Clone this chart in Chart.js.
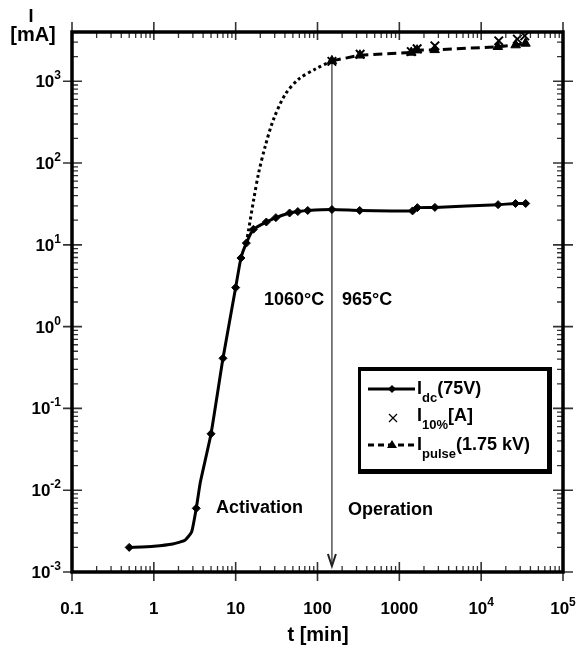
<!DOCTYPE html>
<html lang="en">
<head>
<meta charset="UTF-8">
<script src="https://cdn.jsdelivr.net/npm/chart.js"></script>
<title>I vs t</title>
<style>
    body { margin: 0; background: #fff; }
    #wrap { width: 580px; height: 648px; }
</style>
</head>
<body>
<div id="wrap"><canvas id="chart" width="580" height="648"></canvas></div>
<script>
// t [min] / I [mA]
const dcTime    = [0.5, 1.0, 1.7, 2.4, 2.9, 3.3, 3.7, 5, 7, 10, 11.6, 13.5, 16.5, 23.7, 31, 45.6, 57.5, 76, 150, 328, 1450, 1660, 2720, 16100, 26300, 35000];
const dcCurrent = [0.002, 0.00207, 0.0022, 0.00245, 0.0031, 0.006, 0.0125, 0.049, 0.41, 3.0, 6.9, 10.5, 15.5, 19, 21.5, 24.5, 25.5, 26.3, 27, 26.3, 26, 28.5, 28.7, 31, 32, 32];
const dcMarker  = [1, 0, 0, 0, 0, 1, 0, 1, 1, 1, 1, 1, 1, 1, 1, 1, 1, 1, 1, 1, 1, 1, 1, 1, 1, 1];

const pulseTime    = [150, 330, 1400, 1650, 2700, 16000, 26400, 34800];
const pulseCurrent = [1775, 2080, 2250, 2400, 2420, 2640, 2770, 2900];

const tenTime    = [150, 332, 1400, 1650, 2720, 16400, 27700, 34100];
const tenCurrent = [1750, 2140, 2300, 2500, 2710, 3120, 3270, 3590];

// dotted rise of the pulse current during activation
const riseTime    = [13.5, 14.4, 16.6, 19.1, 23, 29, 40.4, 58.6, 93.4, 150];
const riseCurrent = [10.5, 15.3, 35.6, 76, 161, 342, 692, 1058, 1403, 1775];

const xTicks = [0.1, 1, 10, 100, 1000, 1e4, 1e5];
const xTickText = [['0.1', ''], ['1', ''], ['10', ''], ['100', ''], ['1000', ''], ['10', '4'], ['10', '5']];
const yTicks = [1e-3, 1e-2, 1e-1, 1, 10, 100, 1000];
const yTickText = [['10', '-3'], ['10', '-2'], ['10', '-1'], ['10', '0'], ['10', '1'], ['10', '2'], ['10', '3']];

const switchTime = 150; // activation -> operation

const FONT = '"Liberation Sans", Arial, sans-serif';

function pts(xs, ys) {
    return xs.map((x, i) => ({ x: x, y: ys[i] }));
}

// text with a raised or lowered small part
function drawParts(ctx, parts, x, y, align) {
    let w = 0;
    parts.forEach(p => { ctx.font = 'bold ' + p.size + 'px ' + FONT; w += ctx.measureText(p.text).width; });
    let cx = align === 'right' ? x - w : align === 'center' ? x - w / 2 : x;
    ctx.textAlign = 'left';
    ctx.textBaseline = 'alphabetic';
    parts.forEach(p => {
        ctx.font = 'bold ' + p.size + 'px ' + FONT;
        ctx.fillText(p.text, cx, y + (p.dy || 0));
        cx += ctx.measureText(p.text).width;
    });
}

const axesPlugin = {
    id: 'axesPlugin',
    beforeDatasetsDraw(chart) {
        const { ctx, scales: { x, y } } = chart;
        // arrow marking the switch to operation
        const ax = x.getPixelForValue(switchTime);
        const top = y.getPixelForValue(1750);
        const tip = chart.chartArea.bottom - 6;
        ctx.save();
        ctx.strokeStyle = '#555';
        ctx.lineWidth = 1.5;
        ctx.beginPath();
        ctx.moveTo(ax, top);
        ctx.lineTo(ax, tip);
        ctx.stroke();
        ctx.lineWidth = 2;
        ctx.strokeStyle = '#222';
        ctx.beginPath();
        ctx.moveTo(ax - 4, tip - 12);
        ctx.lineTo(ax, tip);
        ctx.lineTo(ax + 4, tip - 12);
        ctx.stroke();
        ctx.restore();
    },
    afterDraw(chart) {
        const { ctx, chartArea: a, scales: { x, y } } = chart;
        ctx.save();
        ctx.fillStyle = '#000';

        // minor and major ticks on all four sides
        ctx.strokeStyle = '#333';
        for (let d = -1; d < 5; d++) {
            for (let m = 2; m < 10; m++) {
                const px = x.getPixelForValue(m * Math.pow(10, d));
                ctx.lineWidth = 1.3;
                ctx.beginPath();
                ctx.moveTo(px, a.bottom); ctx.lineTo(px, a.bottom - 6);
                ctx.moveTo(px, a.top); ctx.lineTo(px, a.top + 6);
                ctx.stroke();
            }
        }
        for (let d = -3; d < 4; d++) {
            for (let m = 2; m < 10; m++) {
                const v = m * Math.pow(10, d);
                if (v >= 4000) continue;
                const py = y.getPixelForValue(v);
                ctx.lineWidth = 1.3;
                ctx.beginPath();
                ctx.moveTo(a.left, py); ctx.lineTo(a.left + 6, py);
                ctx.moveTo(a.right, py); ctx.lineTo(a.right - 6, py);
                ctx.stroke();
            }
        }
        ctx.lineWidth = 1.6;
        xTicks.forEach(v => {
            const px = x.getPixelForValue(v);
            ctx.beginPath();
            ctx.moveTo(px, a.bottom - 10); ctx.lineTo(px, a.bottom + 9);
            ctx.moveTo(px, a.top + 8); ctx.lineTo(px, a.top - 10);
            ctx.stroke();
        });
        yTicks.forEach(v => {
            const py = y.getPixelForValue(v);
            ctx.beginPath();
            ctx.moveTo(a.left - 9, py); ctx.lineTo(a.left + 10, py);
            ctx.moveTo(a.right + 10, py); ctx.lineTo(a.right - 10, py);
            ctx.stroke();
        });

        // frame
        ctx.strokeStyle = '#000';
        ctx.lineWidth = 3.5;
        ctx.strokeRect(a.left, a.top, a.right - a.left, a.bottom - a.top);

        // tick labels
        xTicks.forEach((v, i) => {
            const t = xTickText[i];
            const parts = [{ text: t[0], size: 17 }];
            if (t[1]) parts.push({ text: t[1], size: 12, dy: -8 });
            drawParts(ctx, parts, x.getPixelForValue(v), a.bottom + 42, 'center');
        });
        yTicks.forEach((v, i) => {
            const t = yTickText[i];
            drawParts(ctx, [{ text: t[0], size: 17 }, { text: t[1], size: 12, dy: -8 }],
                a.left - 11, y.getPixelForValue(v) + 6, 'right');
        });

        // axis titles
        drawParts(ctx, [{ text: 'I', size: 18 }], 31, 22, 'center');
        drawParts(ctx, [{ text: '[mA]', size: 20 }], 33, 41, 'center');
        drawParts(ctx, [{ text: 't [min]', size: 20 }], 318, 641, 'center');

        // annotations
        drawParts(ctx, [{ text: '1060°C', size: 18 }], 264, 305, 'left');
        drawParts(ctx, [{ text: '965°C', size: 18 }], 342, 305, 'left');
        drawParts(ctx, [{ text: 'Activation', size: 18 }], 216, 513, 'left');
        drawParts(ctx, [{ text: 'Operation', size: 18 }], 348, 515, 'left');

        // legend box with shadow
        ctx.fillRect(358, 367, 194, 107);
        ctx.fillStyle = '#fff';
        ctx.fillRect(361, 371, 186, 98);
        ctx.fillStyle = '#000';

        ctx.lineWidth = 3;
        ctx.setLineDash([]);
        ctx.beginPath(); ctx.moveTo(368, 389); ctx.lineTo(415, 389); ctx.stroke();
        ctx.beginPath(); ctx.moveTo(392, 385); ctx.lineTo(396, 389); ctx.lineTo(392, 393); ctx.lineTo(388, 389); ctx.closePath(); ctx.fill();
        drawParts(ctx, [{ text: 'I', size: 18 }, { text: 'dc', size: 13, dy: 8 }, { text: '(75V)', size: 18 }], 417, 394, 'left');

        ctx.lineWidth = 1.2;
        ctx.beginPath();
        ctx.moveTo(389, 414); ctx.lineTo(397, 422);
        ctx.moveTo(397, 414); ctx.lineTo(389, 422);
        ctx.stroke();
        drawParts(ctx, [{ text: 'I', size: 18 }, { text: '10%', size: 13, dy: 8 }, { text: '[A]', size: 18 }], 417, 421, 'left');

        ctx.lineWidth = 3;
        ctx.setLineDash([6, 4]);
        ctx.beginPath(); ctx.moveTo(368, 445); ctx.lineTo(415, 445); ctx.stroke();
        ctx.setLineDash([]);
        ctx.beginPath(); ctx.moveTo(392, 440); ctx.lineTo(397, 448); ctx.lineTo(387, 448); ctx.closePath(); ctx.fill();
        drawParts(ctx, [{ text: 'I', size: 18 }, { text: 'pulse', size: 13, dy: 8 }, { text: '(1.75 kV)', size: 18 }], 417, 450, 'left');

        ctx.restore();
    }
};

new Chart(document.getElementById('chart'), {
    type: 'line',
    data: {
        datasets: [
            {
                label: 'rise',
                data: pts(riseTime, riseCurrent),
                borderColor: '#000',
                borderWidth: 3,
                borderDash: [3, 3],
                pointRadius: 0,
                tension: 0.3,
                clip: false
            },
            {
                label: 'I_dc(75V)',
                data: pts(dcTime, dcCurrent),
                borderColor: '#000',
                backgroundColor: '#000',
                borderWidth: 3,
                pointStyle: 'rectRot',
                pointRadius: dcMarker.map(m => m ? 4 : 0),
                pointBorderWidth: 1,
                tension: 0.15,
                clip: false
            },
            {
                label: 'I_pulse(1.75 kV)',
                data: pts(pulseTime, pulseCurrent),
                borderColor: '#000',
                backgroundColor: '#000',
                borderWidth: 3,
                borderDash: [9, 5],
                pointStyle: 'triangle',
                pointRadius: 5.5,
                pointBorderWidth: 1,
                clip: false
            },
            {
                label: 'I_10%[A]',
                data: pts(tenTime, tenCurrent),
                showLine: false,
                borderColor: '#000',
                pointStyle: 'crossRot',
                pointRadius: 6,
                pointBorderWidth: 2,
                clip: false
            }
        ]
    },
    options: {
        responsive: false,
        animation: false,
        layout: { padding: { left: 72, top: 32, right: 17, bottom: 76 } },
        plugins: { legend: { display: false }, tooltip: { enabled: false } },
        scales: {
            x: { type: 'logarithmic', min: 0.1, max: 1e5, display: false },
            y: { type: 'logarithmic', min: 1e-3, max: 4000, display: false }
        }
    },
    plugins: [axesPlugin]
});
</script>
</body>
</html>
